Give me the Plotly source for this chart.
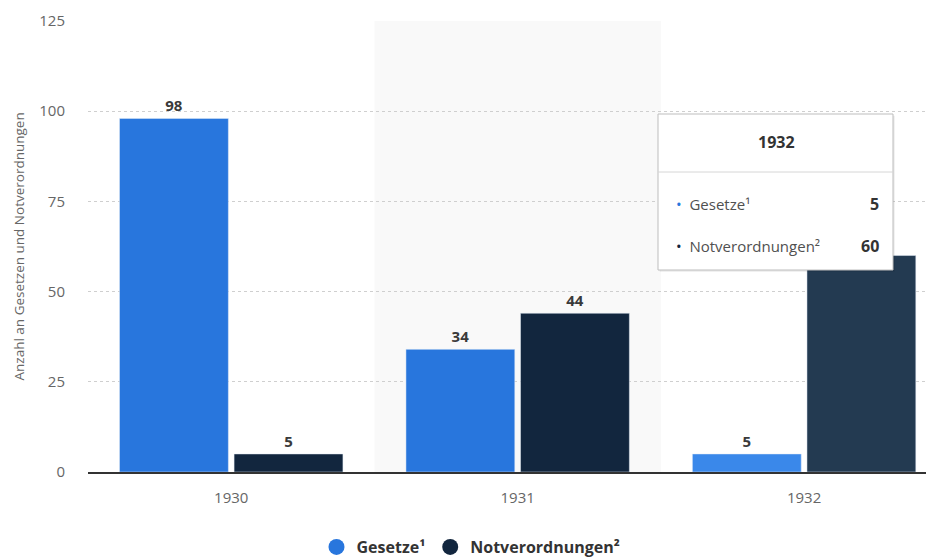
import plotly.graph_objects as go

years = ["1930", "1931", "1932"]
gesetze = [98, 34, 5]
notverordnungen = [5, 44, 60]
series_names = ["Gesetze¹", "Notverordnungen²"]
y_ticks = [0, 25, 50, 75, 100, 125]
y_title = "Anzahl an Gesetzen und Notverordnungen"
hover_idx = 2

BLUE = "#2876dd"
BLUE_H = "#3a88ea"
DARK = "#12263e"
DARK_H = "#233a51"
FONT = "Open Sans"

OFF = 8  # page body margin
W, H = 934 - OFF, 558 - OFF
L, T = 88 - OFF, 21 - OFF
R = W - (933 - OFF)
B = H - (472 - OFF)
pw, ph = W - L - R, H - T - B


def px(x):  # screen x -> paper
    return (x - OFF - L) / pw


def py(y):  # screen y -> paper
    return (H - B - (y - OFF)) / ph


fig = go.Figure()
g_colors = [BLUE_H if i == hover_idx else BLUE for i in range(len(years))]
n_colors = [DARK_H if i == hover_idx else DARK for i in range(len(years))]
# the label of the hovered dark bar is hidden behind the tooltip
n_text = ["" if i == hover_idx else str(v) for i, v in enumerate(notverordnungen)]

label_font = dict(family=FONT, size=15, color="#3a3a3a", weight="bold")
fig.add_bar(x=years, y=gesetze, name=series_names[0], marker_color=g_colors,
            text=gesetze, textposition="outside", cliponaxis=False,
            textfont=label_font, showlegend=False)
fig.add_bar(x=years, y=notverordnungen, name=series_names[1], marker_color=n_colors,
            text=n_text, textposition="outside", cliponaxis=False,
            textfont=label_font, showlegend=False)
# legend entries with circle symbols
for nm, col in zip(series_names, [BLUE, DARK]):
    fig.add_scatter(x=[None], y=[None], mode="markers", name=nm,
                    marker=dict(symbol="circle", size=17, color=col))

fig.update_layout(
    width=W, height=H,
    margin=dict(l=L, r=R, t=T, b=B, autoexpand=False),
    plot_bgcolor="white", paper_bgcolor="white",
    barmode="group", bargap=0.2, bargroupgap=0.05,
    font=dict(family=FONT, color="#666666"),
    showlegend=True,
    legend=dict(orientation="h", xref="container", x=0.5, xanchor="center",
                yref="container", y=(H - (547 - OFF)) / H, yanchor="middle",
                font=dict(family=FONT, size=16, color="#333333", weight="bold"),
                tracegroupgap=0),
    hovermode=False,
)
fig.update_xaxes(type="category", range=[-0.5, 2.45], showgrid=False, automargin=False,
                 showline=True, linecolor="#333333", linewidth=1.5,
                 tickfont=dict(family=FONT, size=15, color="#666666"),
                 ticks="", ticklabelstandoff=11)
fig.update_yaxes(range=[0, 125], tickvals=y_ticks, showgrid=True, automargin=False,
                 gridcolor="#cfcfcf", griddash="dot", gridwidth=1,
                 zeroline=False, showline=False,
                 tickfont=dict(family=FONT, size=15, color="#666666"),
                 ticklabelstandoff=22)
fig.add_annotation(xref="paper", yref="paper", x=px(18), y=0.5, text=y_title,
                   xanchor="center", yanchor="middle",
                   textangle=-90, showarrow=False,
                   font=dict(family=FONT, size=13.5, color="#666666"))

# highlighted band behind 1931
fig.add_shape(type="rect", xref="x", yref="paper", x0=0.5, x1=1.5, y0=0, y1=1,
              fillcolor="#f9f9f9", line_width=0, layer="below")

# tooltip box
x0, x1, y0, y1 = px(658), px(893), py(270), py(114)
fig.add_shape(type="rect", xref="paper", yref="paper", x0=x0 + 0.002, x1=x1 + 0.002,
              y0=y0 - 0.004, y1=y1 - 0.004, fillcolor="rgba(0,0,0,0.08)", line_width=0,
              layer="above")
fig.add_shape(type="rect", xref="paper", yref="paper", x0=x0, x1=x1, y0=y0, y1=y1,
              fillcolor="white", line=dict(color="#bdbdbd", width=1), layer="above")
fig.add_shape(type="line", xref="paper", yref="paper", x0=x0, x1=x1, y0=py(172), y1=py(172),
              line=dict(color="#d6d6d6", width=1), layer="above")
fig.add_annotation(xref="paper", yref="paper", x=px(776), y=py(142),
                   xanchor="center", yanchor="middle",
                   text="<b>" + years[hover_idx] + "</b>", showarrow=False,
                   font=dict(family=FONT, size=16, color="#333333"))
rows = [(series_names[0], gesetze[hover_idx], BLUE, py(204)),
        (series_names[1], notverordnungen[hover_idx], DARK, py(246))]
for nm, val, col, yy in rows:
    fig.add_annotation(xref="paper", yref="paper", x=px(674), y=yy,
                       xanchor="left", yanchor="middle",
                       text=f"<span style='color:{col}'>•</span>  {nm}", showarrow=False,
                       font=dict(family=FONT, size=15, color="#505050"))
    fig.add_annotation(xref="paper", yref="paper", x=px(881), y=yy,
                       xanchor="right", yanchor="middle",
                       text=f"<b>{val}</b>", showarrow=False,
                       font=dict(family=FONT, size=16, color="#333333"))

fig.write_html("out.html")
